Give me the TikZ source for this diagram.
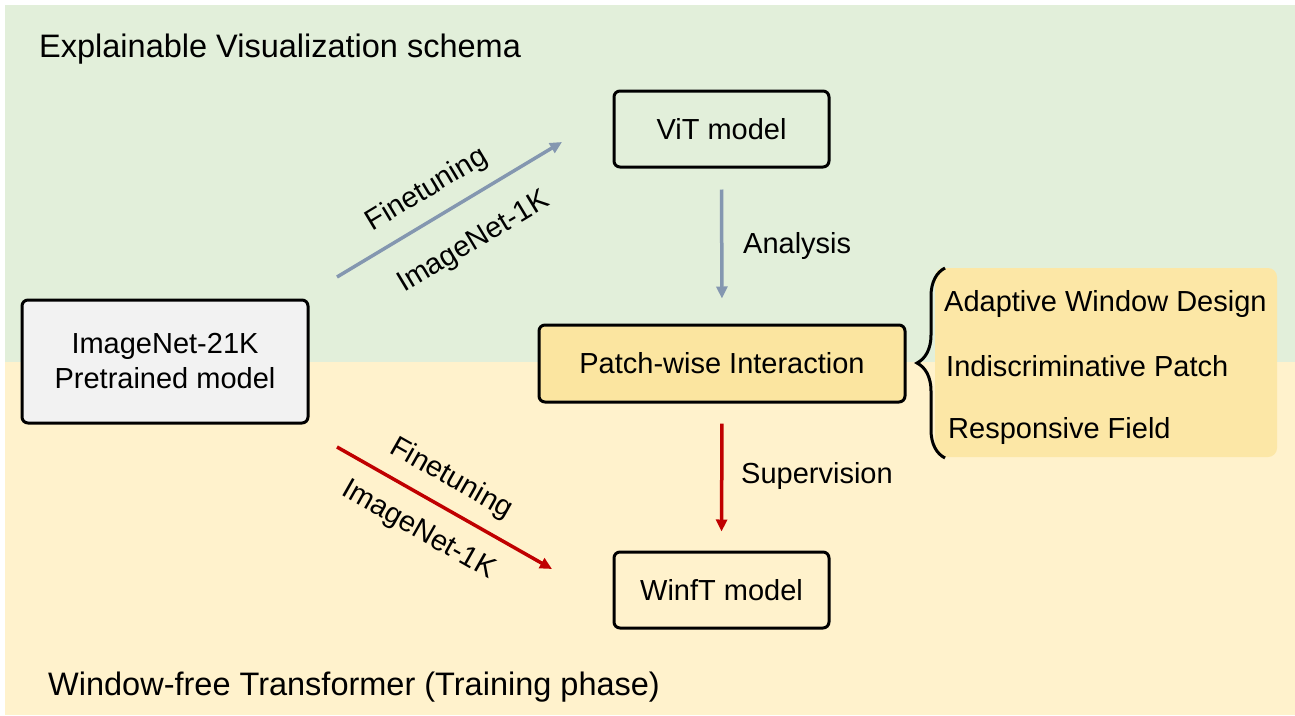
\documentclass[tikz,border=0pt]{standalone}
\usepackage{fontspec}
\setmainfont{Liberation Sans}
\usetikzlibrary{arrows.meta,decorations.pathreplacing}
\definecolor{bggreen}{HTML}{E2EFDA}
\definecolor{bgbeige}{HTML}{FFF2CC}
\definecolor{boxgray}{HTML}{F2F2F2}
\definecolor{patchyel}{HTML}{FBE5A0}
\definecolor{regyel}{HTML}{FCE7A6}
\definecolor{arrblue}{HTML}{8497B0}
\definecolor{arrred}{HTML}{C00000}
\begin{document}
\begin{tikzpicture}[x=1pt,y=-1pt,
  box/.style={draw=black,line width=3pt,rounded corners=6pt,inner sep=0pt,
    font=\fontsize{29}{35}\selectfont,align=center},
  lbl/.style={inner sep=0pt,font=\fontsize{29}{35}\selectfont},
  big/.style={inner sep=0pt,font=\fontsize{32.5}{37}\selectfont},
  arr/.style={line width=3.5pt,-{Triangle[length=12pt,width=11pt]}},
]
\useasboundingbox (0,0) rectangle (1295,715);
\fill[white] (0,0) rectangle (1295,715);
\fill[bggreen] (5,5) rectangle (1295,362);
\fill[bgbeige] (5,362) rectangle (1295,715);

\node[big,anchor=base west] (title) at (39,57) {Explainable Visualization schema};
\node[big,anchor=base west] (footer) at (48,695) {Window-free Transformer (Training phase)};

\node[box,fill=boxgray,minimum width=286pt,minimum height=123pt] (pre) at (165,361.5) {ImageNet-21K\\Pretrained model};
\node[box,fill=bggreen,minimum width=215pt,minimum height=76pt] (vit) at (721.5,129) {ViT model};
\node[box,fill=patchyel,minimum width=366pt,minimum height=77pt] (patch) at (722,363.5) {Patch-wise Interaction};
\node[box,fill=bgbeige,minimum width=215pt,minimum height=76pt] (winft) at (721.5,590) {WinfT model};

\node[fill=regyel,rounded corners=9pt,minimum width=342pt,minimum height=189pt,inner sep=0pt] (region) at (1106,362.5) {};
\node[lbl,anchor=base west] (i1) at (944,311) {Adaptive Window Design};
\node[lbl,anchor=base west] (i2) at (946,376) {Indiscriminative Patch};
\node[lbl,anchor=base west] (i3) at (948,438) {Responsive Field};
\coordinate (bb) at (945,458);
\coordinate (bt) at (945,268);
\draw[line width=3pt,decorate,decoration={brace,amplitude=28pt,aspect=0.5}] (bb) -- (bt);

\coordinate (bs) at (337,277);
\coordinate (be) at (562,142);
\coordinate (rs) at (337,447);
\coordinate (re) at (552,569);
\draw[arr,arrblue] (bs) -- (be);
\draw[arr,arrred] (rs) -- (re);
\draw[arr,arrblue,shorten <=21pt,shorten >=25pt] (vit.south) -- (patch.north);
\draw[arr,arrred,shorten <=20pt,shorten >=19pt] (patch.south) -- (winft.north);

\node[lbl,rotate=31] (f1) at (427,190) {Finetuning};
\node[lbl,rotate=31] (n1) at (474,243) {ImageNet-1K};
\node[lbl,rotate=-29.6] (f2) at (451,479) {Finetuning};
\node[lbl,rotate=-29.6] (n2) at (418,531) {ImageNet-1K};
\node[lbl,anchor=base west] (ana) at (743,253) {Analysis};
\node[lbl,anchor=base west] (sup) at (741,483) {Supervision};
\end{tikzpicture}
\end{document}
